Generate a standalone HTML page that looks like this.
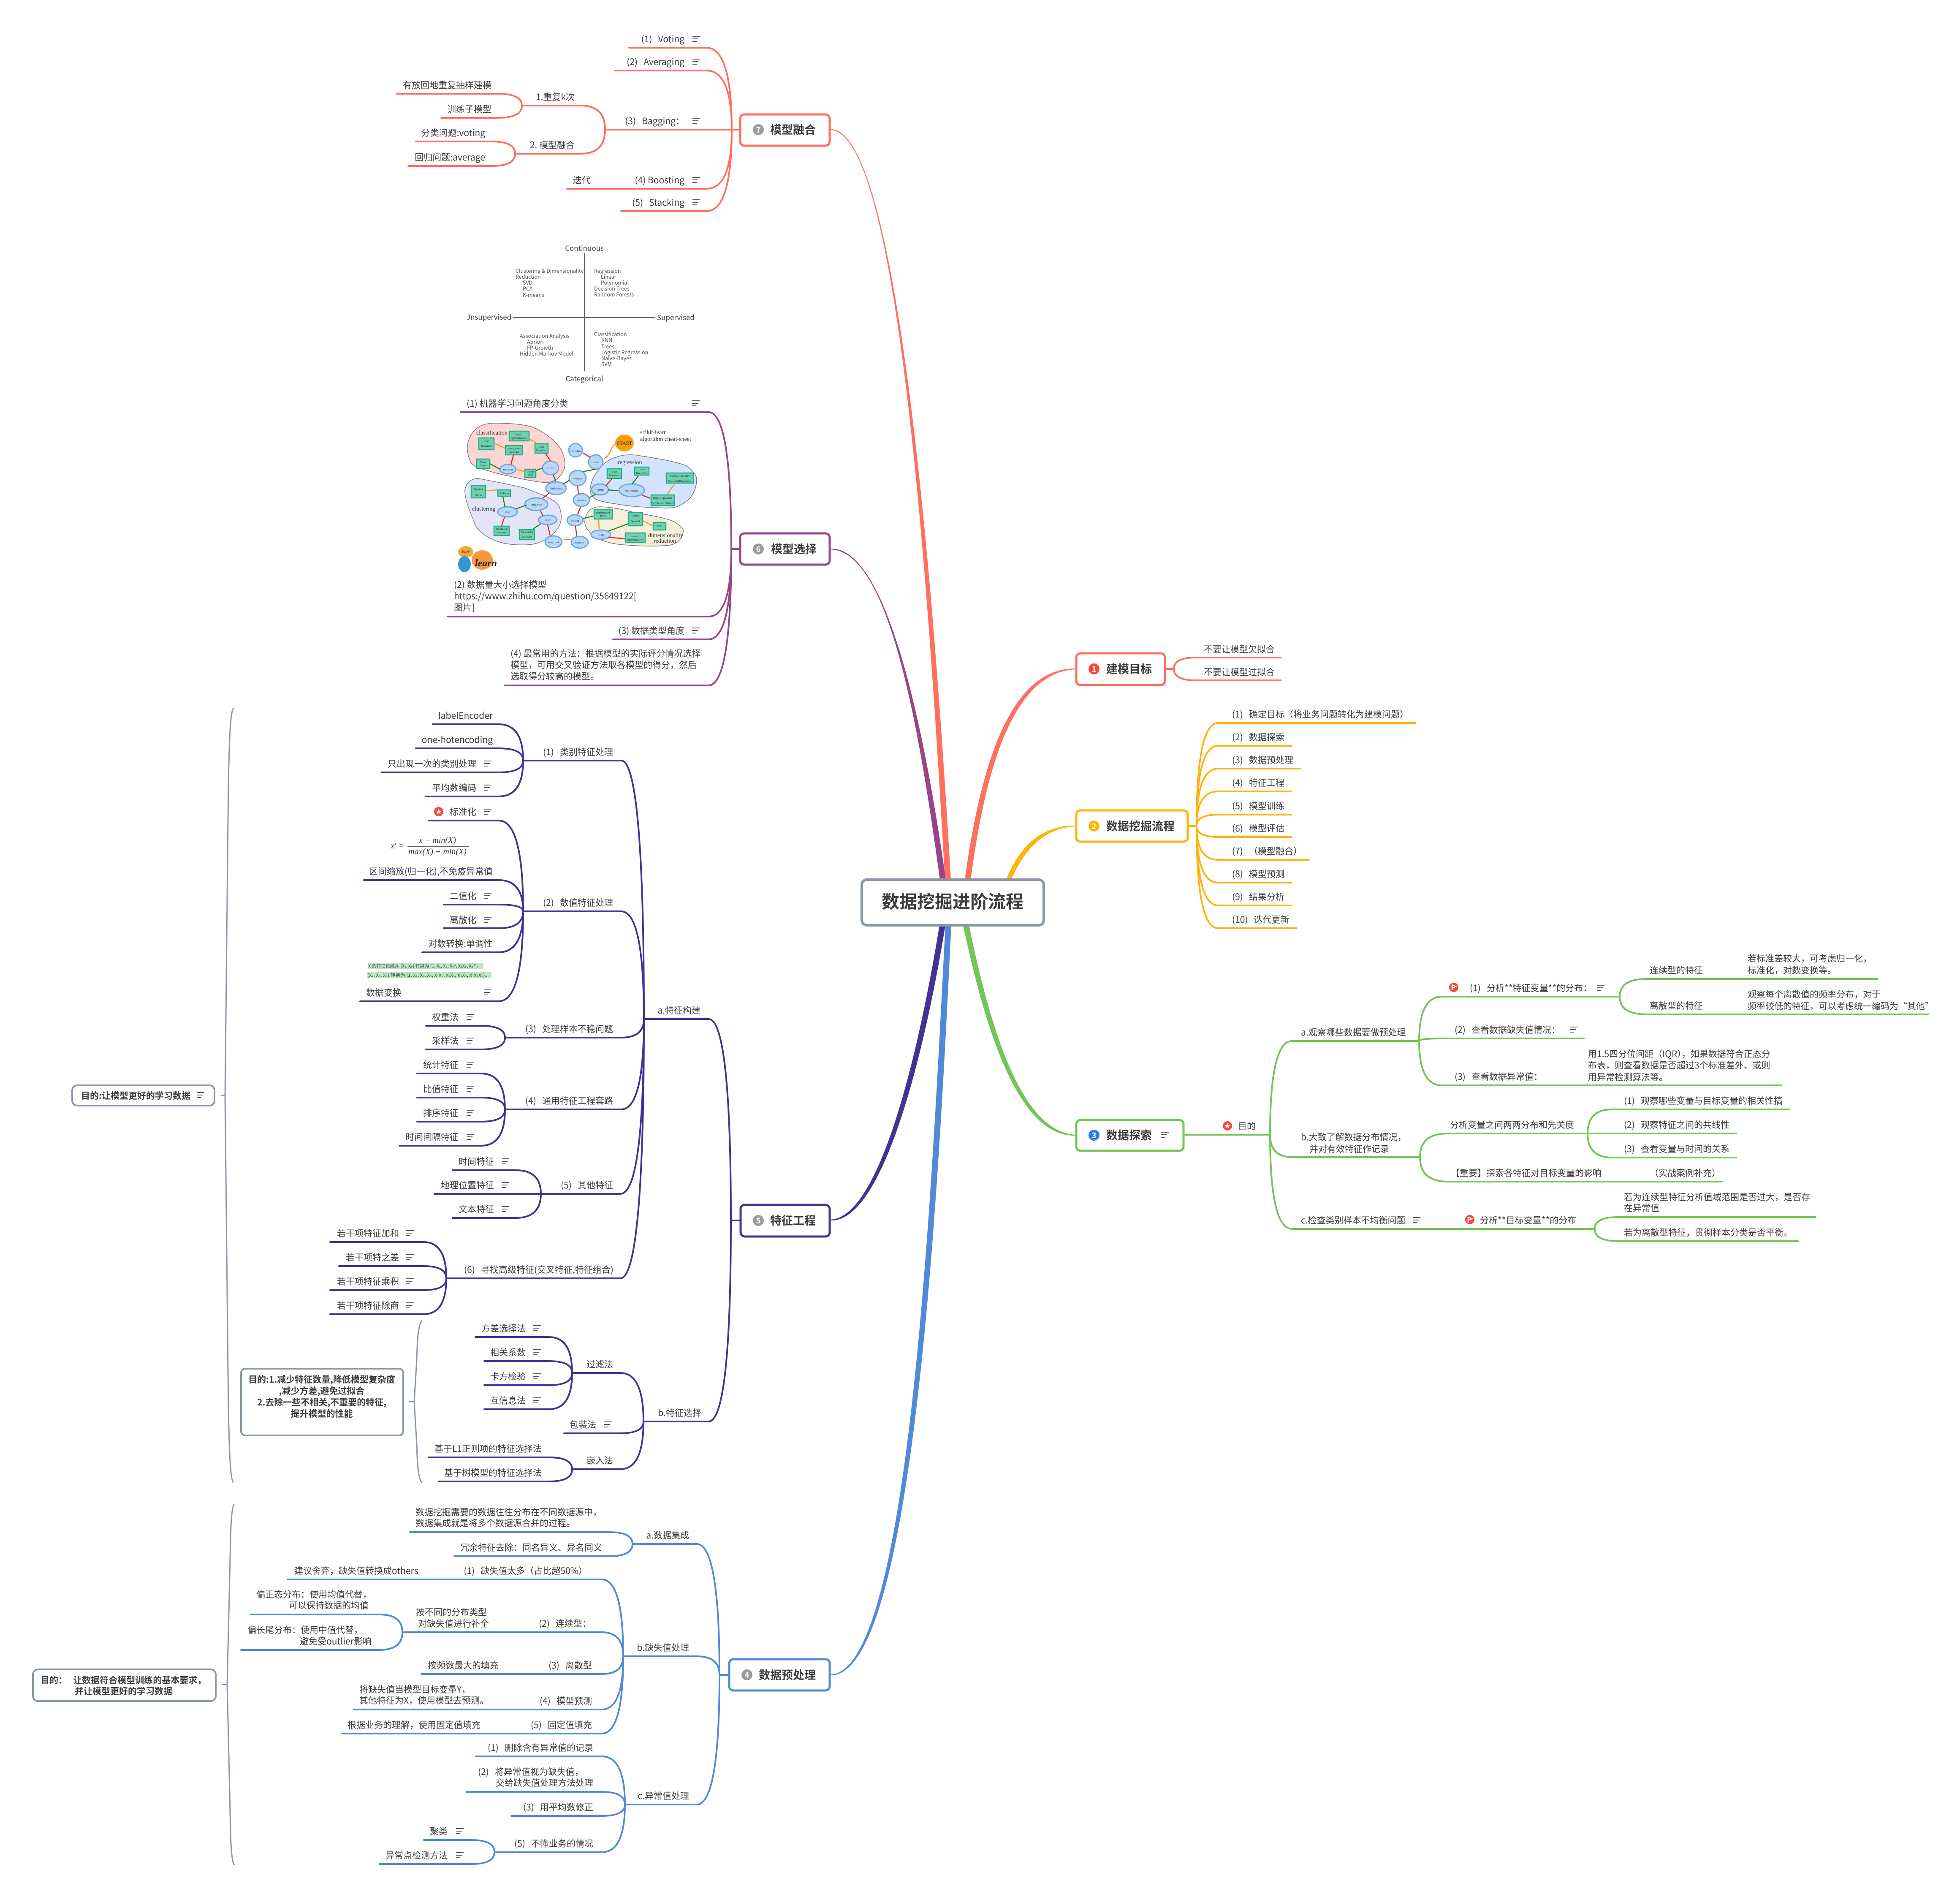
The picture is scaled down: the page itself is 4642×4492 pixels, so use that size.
<!DOCTYPE html>
<html lang="zh">
<head>
<meta charset="utf-8">
<title>数据挖掘进阶流程</title>
<style>
html,body{margin:0;padding:0;background:#fff}
svg{display:block}
text{font-family:"Noto Sans CJK SC","Liberation Sans",sans-serif;font-size:21px;fill:#3d3d3d;white-space:pre}
.e{text-anchor:end}
.m{text-anchor:middle}
.b{font-weight:700}
.n{font-size:27px;font-weight:700}
.w{fill:#fff;font-weight:700;font-size:18px;text-anchor:middle}
.q{font-size:17px;fill:#444}
.s{font-size:12.5px;fill:#555}
.f{font-family:"Liberation Serif",serif;font-style:italic;font-size:20px;fill:#333}
.h{font-family:"Liberation Serif",serif;font-size:14px;fill:#333}
.t{font-family:"Liberation Serif",serif;font-size:6.5px;fill:#234;text-anchor:middle}
.l{fill:none;stroke-width:4;stroke-linecap:round}
.box{fill:#fff;stroke-width:5}
.sum{fill:none;stroke:#8a97a8;stroke-width:3}
</style>
</head>
<body>
<svg xmlns="http://www.w3.org/2000/svg" width="4642" height="4492" viewBox="0 0 4642 4492">
<defs>
<g id="n"><path d="M0,1H18M0,7H14M0,13H10" stroke="#555" stroke-width="2" fill="none"/></g>
<g id="star"><circle r="11" fill="#f4483f"/><polygon points="0,-7 2,-2 7,-2 3,1 5,6 0,3 -5,6 -3,1 -7,-2 -2,-2" fill="#fff"/></g>
<g id="flag"><circle r="11" fill="#f4483f"/><path d="M-4,-6V7M-4,-6L5,-2L-4,2" stroke="#fff" stroke-width="2.5" fill="none"/></g>
</defs>

<!-- main tapered connectors -->
<path fill="#ff6f5e" d="M2238,2083C2194,1300 2122,312 1967,308L1967,306C2120,302 2206,1300 2252,2083Z"/>
<path fill="#984585" d="M2226,2083C2174,1700 2103,1305 1967,1301L1967,1299C2097,1295 2186,1700 2240,2083Z"/>
<path fill="#ff6f5e" d="M2285,2083C2324,1800 2396,1580 2549,1583L2549,1585C2406,1590 2336,1800 2299,2083Z"/>
<path fill="#ffb20a" d="M2383,2083C2416,2000 2470,1954 2549,1955L2549,1957C2476,1959 2426,2010 2395,2083Z"/>
<path fill="#72c556" d="M2281,2191C2336,2450 2415,2694 2548,2689L2548,2687C2423,2682 2348,2450 2295,2191Z"/>
<path fill="#443194" d="M2225,2191C2178,2480 2086,2883 1967,2888L1967,2890C2094,2895 2192,2480 2239,2191Z"/>
<path fill="#5089d8" d="M2239,2191C2207,2800 2156,3961 1967,3965L1967,3967C2166,3971 2223,2800 2253,2191Z"/>

<!-- branch lines -->
<path class="l" stroke="#ff6f5e" d="M1753,307H1733M1733,307Q1733,113 1673,113H1490M1733,307Q1733,167 1673,167H1456M1733,307H1433M1733,307Q1733,447 1673,447H1343M1733,307Q1733,500 1673,500H1471M1433,307Q1433,250 1375,250H1236M1433,307Q1433,364 1375,364H1220M1236,250Q1236,222 1179,222H940M1236,250Q1236,279 1179,279H1045M1220,364Q1220,335 1164,335H985M1220,364Q1220,393 1164,393H967M2759,1584H2780M2780,1584Q2780,1557 2832,1557H3033M2780,1584Q2780,1611 2832,1611H3033"/>
<path class="l" stroke="#ffb20a" d="M2813,1956H2834M2834,1956Q2834,1712 2885,1712H3352M2834,1956Q2834,1766 2885,1766H3058M2834,1956Q2834,1820 2885,1820H3079M2834,1956Q2834,1874 2885,1874H3058M2834,1956Q2834,1929 2885,1929H3058M2834,1956Q2834,1982 2885,1982H3058M2834,1956Q2834,2036 2885,2036H3100M2834,1956Q2834,2090 2885,2090H3058M2834,1956Q2834,2144 2885,2144H3058M2834,1956Q2834,2198 2885,2198H3070"/>
<path class="l" stroke="#984585" d="M1753,1300H1732M1732,1300Q1732,976 1678,976H1091M1732,1300Q1732,1460 1678,1460H1061M1732,1300Q1732,1514 1678,1514H1452M1732,1300Q1732,1623 1678,1623H1196"/>
<path class="l" stroke="#443194" d="M1754,2890H1731M1731,2890Q1731,2413 1678,2413H1525M1731,2890Q1731,3366 1678,3366H1524
M1525,2413Q1525,1801 1471,1801H1239M1525,2413Q1525,2158 1471,2158H1239M1525,2413Q1525,2457 1471,2457H1196M1525,2413Q1525,2627 1471,2627H1196M1525,2413Q1525,2827 1469,2827H1281M1525,2413Q1525,3027 1469,3027H1057
M1239,1801Q1239,1715 1181,1715H1025M1239,1801Q1239,1772 1181,1772H985M1239,1801Q1239,1829 1181,1829H904M1239,1801Q1239,1886 1181,1886H1009
M1239,2158Q1239,1943 1181,1943H1015M1239,2158Q1239,2084 1181,2084H862M1239,2158Q1239,2142 1181,2142H1051M1239,2158Q1239,2198 1181,2198H1051M1239,2158Q1239,2255 1181,2255H1000M1239,2158Q1239,2371 1181,2371H853
M1196,2457Q1196,2429 1139,2429H1009M1196,2457Q1196,2485 1139,2485H1009
M1196,2627Q1196,2542 1139,2542H988M1196,2627Q1196,2599 1139,2599H988M1196,2627Q1196,2656 1139,2656H988M1196,2627Q1196,2713 1139,2713H946
M1281,2827Q1281,2771 1221,2771H1072M1281,2827H1029M1281,2827Q1281,2884 1221,2884H1072
M1057,3027Q1057,2941 1003,2941H782M1057,3027Q1057,2998 1003,2998H803M1057,3027Q1057,3055 1003,3055H782M1057,3027Q1057,3112 1003,3112H782
M1524,3366Q1524,3251 1469,3251H1355M1524,3366Q1524,3394 1469,3394H1336M1524,3366Q1524,3479 1469,3479H1355
M1355,3251Q1355,3166 1300,3166H1126M1355,3251Q1355,3223 1300,3223H1147M1355,3251Q1355,3280 1300,3280H1147M1355,3251Q1355,3337 1300,3337H1147
M1355,3479Q1355,3451 1300,3451H1015M1355,3479Q1355,3508 1300,3508H1039"/>
<path class="l" stroke="#5089d8" d="M1727,3966H1704M1704,3966Q1704,3656 1650,3656H1498M1704,3966Q1704,3922 1650,3922H1476M1704,3966Q1704,4273 1650,4273H1480
M1498,3656Q1498,3628 1443,3628H971M1498,3656Q1498,3685 1443,3685H1076
M1476,3922Q1476,3740 1425,3740H682M1476,3922Q1476,3865 1425,3865H953M1476,3922Q1476,3964 1425,3964H998M1476,3922Q1476,4048 1425,4048H838M1476,3922Q1476,4105 1425,4105H809
M953,3865Q953,3823 898,3823H593M953,3865Q953,3907 898,3907H571
M1480,4273Q1480,4159 1425,4159H1127M1480,4273Q1480,4243 1425,4243H1105M1480,4273Q1480,4300 1425,4300H1211M1480,4273Q1480,4386 1425,4386H1171
M1171,4386Q1171,4357 1116,4357H1004M1171,4386Q1171,4414 1116,4414H899"/>
<path class="l" stroke="#72c556" d="M2803,2687H3008M3008,2687Q3008,2465 3060,2465H3361M3008,2687Q3008,2740 3060,2740H3363M3008,2687Q3008,2910 3060,2910H3777
M3361,2465Q3361,2360 3415,2360H3836M3361,2465Q3361,2459 3415,2459H3751M3361,2465Q3361,2570 3415,2570H4219
M3836,2360Q3836,2318 3900,2318H4447M3836,2360Q3836,2402 3900,2402H4567
M3363,2740Q3363,2684 3429,2684H3760M3363,2740Q3363,2798 3429,2798H4078
M3760,2684Q3760,2627 3818,2627H4238M3760,2684H4112M3760,2684Q3760,2741 3818,2741H4112
M3777,2910Q3777,2882 3832,2882H4300M3777,2910Q3777,2939 3832,2939H4258"/>

<!-- summary braces -->
<path class="sum" d="M553,1677C545,1685 543,1760 541,1850L533,2594L541,3340C543,3430 545,3505 553,3511M523,2594H533"/>
<path class="sum" d="M1000,3127C990,3133 988,3180 987,3220L981,3319L987,3420C988,3460 990,3505 1000,3511M969,3319H981"/>
<path class="sum" d="M555,3562C547,3570 546,3630 545,3690L538,3989L545,4290C546,4350 547,4408 555,4416M526,3989H538"/>
<rect class="box" x="171" y="2570" width="337" height="48" rx="12" stroke="#8a97a8" style="stroke-width:4"/>
<text class="b" x="192" y="2602">目的:让模型更好的学习数据</text>
<use href="#n" x="466" y="2586"/>
<rect class="box" x="571" y="3241" width="384" height="158" rx="10" stroke="#8a97a8" style="stroke-width:4"/>
<text class="b m" x="762" y="3274">目的:1.减少特征数量,降低模型复杂度</text>
<text class="b m" x="762" y="3301">,减少方差,避免过拟合</text>
<text class="b m" x="762" y="3328">2.去除一些不相关,不重要的特征,</text>
<text class="b m" x="762" y="3355">提升模型的性能</text>
<rect class="box" x="78" y="3953" width="433" height="75" rx="12" stroke="#8a97a8" style="stroke-width:4"/>
<text class="b" x="96" y="3986">目的：   让数据符合模型训练的基本要求，</text>
<text class="b" x="177" y="4012">并让模型更好的学习数据</text>

<!-- root -->
<rect class="box" x="2041" y="2083" width="431" height="108" rx="12" stroke="#8a97a8" style="stroke-width:6"/>
<text class="m b" x="2256" y="2150" style="font-size:42px">数据挖掘进阶流程</text>

<!-- main nodes -->
<rect class="box" x="2549" y="1547" width="210" height="75" rx="10" stroke="#ff6f5e"/>
<circle cx="2591" cy="1584" r="13" fill="#f4483f"/><text class="w" x="2591" y="1591">1</text>
<text class="n" x="2620" y="1594">建模目标</text>

<rect class="box" x="2549" y="1919" width="264" height="74" rx="10" stroke="#ffb20a"/>
<circle cx="2591" cy="1956" r="13" fill="#ffb20a"/><text class="w" x="2591" y="1963">2</text>
<text class="n" x="2620" y="1966">数据挖掘流程</text>

<rect class="box" x="2549" y="2652" width="254" height="73" rx="10" stroke="#72c556"/>
<circle cx="2591" cy="2688" r="13" fill="#2d7bf0"/><text class="w" x="2591" y="2695">3</text>
<text class="n" x="2620" y="2698">数据探索</text>
<use href="#n" x="2750" y="2680"/>

<rect class="box" x="1727" y="3929" width="238" height="74" rx="10" stroke="#5089d8"/>
<circle cx="1769" cy="3966" r="13" fill="#9b9b9b"/><text class="w" x="1769" y="3973">4</text>
<text class="n" x="1797" y="3976">数据预处理</text>

<rect class="box" x="1754" y="2853" width="211" height="75" rx="10" stroke="#443194"/>
<circle cx="1796" cy="2890" r="13" fill="#9b9b9b"/><text class="w" x="1796" y="2897">5</text>
<text class="n" x="1824" y="2900">特征工程</text>

<rect class="box" x="1753" y="1263" width="212" height="74" rx="10" stroke="#984585"/>
<circle cx="1796" cy="1300" r="13" fill="#9b9b9b"/><text class="w" x="1796" y="1307">6</text>
<text class="n" x="1826" y="1310">模型选择</text>

<rect class="box" x="1753" y="271" width="212" height="74" rx="10" stroke="#ff6f5e"/>
<circle cx="1796" cy="307" r="13" fill="#9b9b9b"/><text class="w" x="1796" y="314">7</text>
<text class="n" x="1824" y="317">模型融合</text>

<!-- node 7 text -->
<text class="e" x="1621" y="100">(1)   Voting</text><use href="#n" x="1640" y="85"/>
<text class="e" x="1621" y="154">(2)   Averaging</text><use href="#n" x="1640" y="139"/>
<text class="e" x="1621" y="294">(3)   Bagging：</text><use href="#n" x="1640" y="279"/>
<text class="e" x="1621" y="434">(4) Boosting</text><use href="#n" x="1640" y="419"/>
<text class="e" x="1621" y="487">(5)   Stacking</text><use href="#n" x="1640" y="472"/>
<text x="1357" y="434">迭代</text>
<text class="e" x="1361" y="237">1.重复k次</text>
<text class="e" x="1361" y="351">2. 模型融合</text>
<text class="e" x="1164" y="209">有放回地重复抽样建模</text>
<text class="e" x="1164" y="266">训练子模型</text>
<text class="e" x="1149" y="322">分类问题:voting</text>
<text class="e" x="1149" y="380">回归问题:average</text>

<!-- quadrant image -->
<path d="M1384,600V879M1215,752H1552" stroke="#666" stroke-width="2" fill="none"/>
<text class="q m" x="1384" y="594">Continuous</text>
<text class="q m" x="1384" y="903">Categorical</text>
<text class="q" x="1105" y="757">Jnsupervised</text>
<text class="q" x="1556" y="758">Supervised</text>
<text class="s" x="1221" y="646">Clustering &amp; Dimensionality</text>
<text class="s" x="1221" y="660">Reduction</text>
<text class="s" x="1238" y="674">SVD</text>
<text class="s" x="1238" y="688">PCA</text>
<text class="s" x="1238" y="703">K-means</text>
<text class="s" x="1407" y="646">Regression</text>
<text class="s" x="1423" y="660">Linear</text>
<text class="s" x="1423" y="674">Polynomial</text>
<text class="s" x="1407" y="688">Decision Trees</text>
<text class="s" x="1407" y="702">Random Forests</text>
<text class="s" x="1231" y="800">Association Analysis</text>
<text class="s" x="1248" y="814">Apriori</text>
<text class="s" x="1248" y="828">FP-Growth</text>
<text class="s" x="1231" y="842">Hidden Markov Model</text>
<text class="s" x="1407" y="796">Classification</text>
<text class="s" x="1424" y="810">KNN</text>
<text class="s" x="1424" y="825">Trees</text>
<text class="s" x="1424" y="839">Logistic Regression</text>
<text class="s" x="1424" y="853">Naive-Bayes</text>
<text class="s" x="1424" y="867">SVM</text>

<!-- node 6 text -->
<text x="1105" y="963">(1) 机器学习问题角度分类</text><use href="#n" x="1639" y="948"/>
<text x="1075" y="1392">(2) 数据量大小选择模型</text>
<text x="1075" y="1419">https://www.zhihu.com/question/35649122[</text>
<text x="1075" y="1446">图片]</text>
<text class="e" x="1621" y="1501">(3) 数据类型角度</text><use href="#n" x="1639" y="1486"/>
<text x="1209" y="1555">(4) 最常用的方法：根据模型的实际评分情况选择</text>
<text x="1209" y="1582">模型，可用交叉验证方法取各模型的得分，然后</text>
<text x="1209" y="1609">选取得分较高的模型。</text>

<!-- scikit-learn cheat sheet -->
<g>
<path d="M1107,1054C1115,1015 1140,1002 1171,1002C1210,1002 1240,1005 1260,1011C1295,1025 1322,1050 1331,1069C1337,1085 1340,1095 1337,1107C1330,1130 1312,1143 1292,1143C1260,1140 1215,1130 1178,1121C1145,1112 1118,1105 1114,1093C1108,1080 1106,1065 1107,1054Z" fill="#fdd5d5" stroke="#777" stroke-width="1.5"/>
<path d="M1101,1160C1105,1140 1118,1133 1133,1133C1170,1140 1205,1147 1241,1155C1280,1170 1312,1180 1324,1198C1332,1220 1330,1235 1324,1246C1310,1270 1285,1285 1260,1289C1235,1292 1205,1290 1184,1284C1155,1275 1135,1260 1127,1246C1115,1215 1100,1185 1101,1160Z" fill="#e4e4f8" stroke="#777" stroke-width="1.5"/>
<path d="M1398,1155C1402,1125 1430,1090 1458,1083C1475,1076 1495,1076 1509,1078C1550,1085 1590,1090 1624,1102C1640,1112 1650,1125 1650,1136C1650,1155 1640,1178 1624,1188C1610,1200 1595,1203 1579,1203C1535,1202 1495,1200 1458,1193C1435,1190 1412,1185 1407,1179C1400,1172 1396,1165 1398,1155Z" fill="#d4e3ff" stroke="#777" stroke-width="1.5"/>
<path d="M1385,1236C1385,1215 1400,1200 1420,1200C1445,1200 1470,1205 1496,1212C1535,1220 1575,1225 1598,1236C1612,1245 1620,1252 1618,1260C1615,1280 1600,1288 1586,1291C1545,1295 1505,1293 1465,1289C1435,1285 1410,1275 1401,1265C1392,1255 1385,1248 1385,1236Z" fill="#f5eeda" stroke="#777" stroke-width="1.5"/>
<g fill="#6fd0ae" stroke="#1fb088" stroke-width="2.5">
<rect x="1206" y="1021" width="47" height="23"/><rect x="1134" y="1037" width="36" height="28"/><rect x="1197" y="1055" width="40" height="22"/><rect x="1267" y="1051" width="31" height="22"/><rect x="1129" y="1087" width="31" height="22"/><rect x="1243" y="1111" width="26" height="20"/><rect x="1116" y="1150" width="34" height="29"/><rect x="1179" y="1160" width="30" height="15"/><rect x="1170" y="1246" width="36" height="22"/><rect x="1230" y="1254" width="36" height="24"/><rect x="1438" y="1110" width="34" height="23"/><rect x="1503" y="1106" width="34" height="19"/><rect x="1578" y="1120" width="64" height="24"/><rect x="1542" y="1172" width="55" height="25"/><rect x="1407" y="1207" width="43" height="22"/><rect x="1489" y="1214" width="33" height="31"/><rect x="1547" y="1237" width="30" height="18"/><rect x="1481" y="1262" width="47" height="23"/>
</g>
<g class="lab">
<text class="t" x="1229" y="1031">kernel</text><text class="t" x="1229" y="1039">approximation</text>
<text class="t" x="1152" y="1047">SVC</text><text class="t" x="1152" y="1058">Ensemble</text>
<text class="t" x="1217" y="1064">KNeighbors</text><text class="t" x="1217" y="1072">Classifier</text>
<text class="t" x="1282" y="1060">SGD</text><text class="t" x="1282" y="1068">Classifier</text>
<text class="t" x="1144" y="1096">Naive</text><text class="t" x="1144" y="1104">Bayes</text>
<text class="t" x="1256" y="1119">Linear</text><text class="t" x="1256" y="1127">SVC</text>
<text class="t" x="1133" y="1160">Spectral</text><text class="t" x="1133" y="1175">GMM</text>
<text class="t" x="1194" y="1170">KMeans</text>
<text class="t" x="1188" y="1255">MiniBatch</text><text class="t" x="1188" y="1263">KMeans</text>
<text class="t" x="1248" y="1262">MeanShift</text><text class="t" x="1248" y="1274">VBGMM</text>
<text class="t" x="1455" y="1119">SGD</text><text class="t" x="1455" y="1127">Regressor</text>
<text class="t" x="1520" y="1113">Lasso</text><text class="t" x="1520" y="1122">ElasticNet</text>
<text class="t" x="1610" y="1129">SVR(kernel='rbf')</text><text class="t" x="1610" y="1141">EnsembleRegressors</text>
<text class="t" x="1569" y="1181">RidgeRegression</text><text class="t" x="1569" y="1193">SVR(kernel='linear')</text>
<text class="t" x="1428" y="1216">Randomized</text><text class="t" x="1428" y="1224">PCA</text>
<text class="t" x="1505" y="1223">Isomap</text><text class="t" x="1505" y="1236">Spectral</text>
<text class="t" x="1562" y="1248">LLE</text>
<text class="t" x="1504" y="1272">kernel</text><text class="t" x="1504" y="1280">approximation</text>
</g>
<g fill="#b9d8f7" stroke="#6ea8e0" stroke-width="3">
<ellipse cx="1363" cy="1066" rx="16" ry="16"/><ellipse cx="1411" cy="1094" rx="17" ry="17"/><ellipse cx="1368" cy="1132" rx="20" ry="18"/><ellipse cx="1317" cy="1156" rx="24" ry="15"/><ellipse cx="1304" cy="1108" rx="19" ry="16"/><ellipse cx="1203" cy="1111" rx="19" ry="11"/><ellipse cx="1377" cy="1184" rx="19" ry="15"/><ellipse cx="1421" cy="1159" rx="20" ry="13"/><ellipse cx="1496" cy="1161" rx="30" ry="15"/><ellipse cx="1270" cy="1194" rx="27" ry="15"/><ellipse cx="1202" cy="1212" rx="23" ry="12"/><ellipse cx="1297" cy="1231" rx="22" ry="11"/><ellipse cx="1362" cy="1232" rx="19" ry="13"/><ellipse cx="1423" cy="1266" rx="23" ry="11"/><ellipse cx="1373" cy="1284" rx="20" ry="14"/><ellipse cx="1311" cy="1283" rx="20" ry="14"/>
</g>
<path fill="none" stroke="#1a8a1a" stroke-width="2.5" d="M1411,1111L1380,1117M1317,1140L1310,1125M1335,1146L1350,1136M1285,1108L1270,1114M1184,1111L1160,1098M1440,1160L1463,1162M1497,1146L1512,1127M1396,1178L1412,1170M1247,1196L1222,1205M1196,1200L1191,1176M1282,1240L1263,1252M1381,1228L1405,1222M1440,1258L1488,1240"/>
<path fill="none" stroke="#d42a2a" stroke-width="2.5" d="M1398,1083L1380,1072M1368,1150L1370,1170M1375,1200L1368,1218M1363,1246L1366,1270M1300,1168L1285,1180M1280,1210L1286,1222M1297,1243L1303,1268M1195,1224L1188,1245M1304,1092L1292,1074M1210,1100L1216,1078M1520,1172L1540,1180M1440,1272L1480,1276M1435,1150L1450,1133"/>
<path fill="none" stroke="#f59e0b" stroke-width="2.5" d="M1459,1052C1445,1055 1450,1075 1430,1087M1271,1050L1255,1040M1197,1062L1172,1050M1243,1117L1225,1112M1178,1160L1152,1162M1353,1278L1333,1278M1418,1230L1419,1253M1522,1232L1545,1245M1580,1170L1597,1147"/>
<ellipse cx="1479" cy="1049" rx="21" ry="19" fill="#ff9d00" stroke="#d9a93a" stroke-width="2"/>
<text class="t" x="1479" y="1053" style="font-size:12px">START</text>
<text class="h" x="1516" y="1028">scikit-learn</text>
<text class="h" x="1516" y="1044">algorithm cheat-sheet</text>
<text class="h" x="1128" y="1029">classification</text>
<text class="h" x="1118" y="1209">clustering</text>
<text class="h" x="1463" y="1099">regression</text>
<text class="h" x="1535" y="1272">dimensionality</text>
<text class="h" x="1548" y="1285">reduction</text>
<text class="t" x="1363" y="1070">more data</text>
<text class="t" x="1411" y="1097">&gt;50</text>
<text class="t" x="1368" y="1135">category</text>
<text class="t" x="1317" y="1159">labeled data</text>
<text class="t" x="1304" y="1111">&lt;100K</text>
<text class="t" x="1203" y="1114">Text Data</text>
<text class="t" x="1377" y="1187">quantity</text>
<text class="t" x="1421" y="1162">&lt;100K</text>
<text class="t" x="1496" y="1164">few features</text>
<text class="t" x="1270" y="1197">categories</text>
<text class="t" x="1202" y="1215">&lt;10K</text>
<text class="t" x="1297" y="1234">&lt;10K</text>
<text class="t" x="1362" y="1235">looking</text>
<text class="t" x="1423" y="1269">&lt;10K</text>
<text class="t" x="1373" y="1287">structure</text>
<text class="t" x="1311" y="1286">tough luck</text>
<ellipse cx="1103" cy="1307" rx="17" ry="13" fill="#f9a03c" stroke="#e5c04d" stroke-width="2"/>
<ellipse cx="1100" cy="1336" rx="15" ry="19" fill="#3498cf"/>
<ellipse cx="1142" cy="1326" rx="25" ry="23" fill="#f7993a"/>
<text x="1125" y="1341" style="font-family:'Liberation Serif',serif;font-style:italic;font-weight:700;font-size:24px;fill:#222">learn</text>
<text class="t" x="1103" y="1310" style="font-size:9px;font-style:italic">Back</text>
</g>

<!-- node 5 text -->
<text class="e" x="1659" y="2400">a.特征构建</text>
<text class="e" x="1661" y="3353">b.特征选择</text>
<text class="e" x="1452" y="1788">(1)   类别特征处理</text>
<text class="e" x="1452" y="2145">(2)   数值特征处理</text>
<text class="e" x="1452" y="2444">(3)   处理样本不稳问题</text>
<text class="e" x="1452" y="2614">(4)   通用特征工程套路</text>
<text class="e" x="1452" y="2814">(5)   其他特征</text>
<text class="e" x="1453" y="3014">(6)   寻找高级特征(交叉特征,特征组合)</text>
<text class="e" x="1167" y="1702">labelEncoder</text>
<text class="e" x="1167" y="1759">one-hotencoding</text>
<text class="e" x="1128" y="1816">只出现一次的类别处理</text><use href="#n" x="1146" y="1801"/>
<text class="e" x="1128" y="1873">平均数编码</text><use href="#n" x="1146" y="1858"/>
<use href="#star" x="1039" y="1922"/>
<text class="e" x="1128" y="1930">标准化</text><use href="#n" x="1146" y="1915"/>
<text class="f" x="925" y="2009">x′ =</text>
<text class="f" x="992" y="1996">x − min(X)</text>
<path d="M965,2004H1110" stroke="#333" stroke-width="1.5"/>
<text class="f" x="967" y="2023">max(X) − min(X)</text>
<text class="e" x="1167" y="2071">区间缩放(归一化),不免疫异常值</text>
<text class="e" x="1128" y="2129">二值化</text><use href="#n" x="1146" y="2114"/>
<text class="e" x="1128" y="2186">离散化</text><use href="#n" x="1146" y="2171"/>
<text class="e" x="1167" y="2242">对数转换:单调性</text>
<rect x="871" y="2280" width="274" height="14" fill="#bfe6c5"/>
<rect x="869" y="2302" width="295" height="14" fill="#bfe6c5"/>
<text x="872" y="2291" textLength="268" lengthAdjust="spacingAndGlyphs" style="font-size:10px">X 的特征已经从 (X₁, X₂) 转换为 (1, X₁, X₂, X₁², X₁X₂, X₂²)。</text>
<text x="870" y="2313" textLength="290" lengthAdjust="spacingAndGlyphs" style="font-size:10px">(X₁, X₂, X₃) 转换为 (1, X₁, X₂, X₃, X₁X₂, X₁X₃, X₂X₃, X₁X₂X₃)。</text>
<text x="867" y="2358">数据变换</text><use href="#n" x="1146" y="2343"/>
<text class="e" x="1086" y="2416">权重法</text><use href="#n" x="1105" y="2401"/>
<text class="e" x="1086" y="2472">采样法</text><use href="#n" x="1105" y="2457"/>
<text class="e" x="1086" y="2529">统计特征</text><use href="#n" x="1105" y="2514"/>
<text class="e" x="1086" y="2586">比值特征</text><use href="#n" x="1105" y="2571"/>
<text class="e" x="1086" y="2643">排序特征</text><use href="#n" x="1105" y="2628"/>
<text class="e" x="1086" y="2700">时间间隔特征</text><use href="#n" x="1105" y="2685"/>
<text class="e" x="1170" y="2758">时间特征</text><use href="#n" x="1188" y="2743"/>
<text class="e" x="1170" y="2814">地理位置特征</text><use href="#n" x="1188" y="2799"/>
<text class="e" x="1170" y="2871">文本特征</text><use href="#n" x="1188" y="2856"/>
<text class="e" x="945" y="2928">若干项特征加和</text><use href="#n" x="962" y="2913"/>
<text class="e" x="945" y="2985">若干项特之差</text><use href="#n" x="962" y="2970"/>
<text class="e" x="945" y="3042">若干项特征乘积</text><use href="#n" x="962" y="3027"/>
<text class="e" x="945" y="3099">若干项特征除商</text><use href="#n" x="962" y="3084"/>
<text class="e" x="1452" y="3238">过滤法</text>
<text class="e" x="1412" y="3381">包装法</text><use href="#n" x="1431" y="3366"/>
<text class="e" x="1452" y="3466">嵌入法</text>
<text class="e" x="1245" y="3153">方差选择法</text><use href="#n" x="1263" y="3138"/>
<text class="e" x="1245" y="3210">相关系数</text><use href="#n" x="1263" y="3195"/>
<text class="e" x="1245" y="3267">卡方检验</text><use href="#n" x="1263" y="3252"/>
<text class="e" x="1245" y="3324">互信息法</text><use href="#n" x="1263" y="3309"/>
<text class="e" x="1283" y="3438">基于L1正则项的特征选择法</text>
<text class="e" x="1283" y="3495">基于树模型的特征选择法</text>

<!-- node 4 text -->
<text class="e" x="1632" y="3643">a.数据集成</text>
<text class="e" x="1632" y="3909">b.缺失值处理</text>
<text class="e" x="1632" y="4260">c.异常值处理</text>
<text x="984" y="3588">数据挖掘需要的数据往往分布在不同数据源中，</text>
<text x="984" y="3614">数据集成就是将多个数据源合并的过程。</text>
<text class="e" x="1426" y="3672">冗余特征去除：同名异义、异名同义</text>
<text class="e" x="1391" y="3727">(1)   缺失值太多（占比超50%）</text>
<text x="697" y="3727">建议舍弃，缺失值转换成others</text>
<text x="1276" y="3852">(2)   连续型：</text>
<text x="985" y="3825">按不同的分布类型</text>
<text x="990" y="3852">对缺失值进行补全</text>
<text class="e" x="1402" y="3951">(3)   离散型</text>
<text x="1013" y="3951">按频数最大的填充</text>
<text class="e" x="1402" y="4035">(4)   模型预测</text>
<text x="851" y="4008">将缺失值当模型目标变量Y，</text>
<text x="851" y="4034">其他特征为X，使用模型去预测。</text>
<text class="e" x="1402" y="4092">(5)   固定值填充</text>
<text x="823" y="4092">根据业务的理解，使用固定值填充</text>
<text x="607" y="3783">偏正态分布：使用均值代替，</text>
<text x="684" y="3809">可以保持数据的均值</text>
<text x="586" y="3867">偏长尾分布：使用中值代替，</text>
<text x="710" y="3894">避免受outlier影响</text>
<text class="e" x="1405" y="4146">(1)   删除含有异常值的记录</text>
<text x="1132" y="4203">(2)   将异常值视为缺失值，</text>
<text class="e" x="1405" y="4229">交给缺失值处理方法处理</text>
<text class="e" x="1405" y="4287">(3)   用平均数修正</text>
<text class="e" x="1405" y="4373">(5)   不懂业务的情况</text>
<text class="e" x="1060" y="4344">聚类</text><use href="#n" x="1080" y="4329"/>
<text class="e" x="1060" y="4401">异常点检测方法</text><use href="#n" x="1080" y="4386"/>

<!-- node 1 text -->
<text x="2851" y="1545">不要让模型欠拟合</text>
<text x="2851" y="1599">不要让模型过拟合</text>

<!-- node 2 text -->
<text x="2918" y="1699">(1)   确定目标（将业务问题转化为建模问题）</text>
<text x="2918" y="1753">(2)   数据探索</text>
<text x="2918" y="1807">(3)   数据预处理</text>
<text x="2918" y="1861">(4)   特征工程</text>
<text x="2918" y="1916">(5)   模型训练</text>
<text x="2918" y="1969">(6)   模型评估</text>
<text x="2918" y="2023">(7)   （模型融合）</text>
<text x="2918" y="2077">(8)   模型预测</text>
<text x="2918" y="2131">(9)   结果分析</text>
<text x="2918" y="2185">(10)   迭代更新</text>

<!-- node 3 text -->
<use href="#star" x="2907" y="2666"/>
<text x="2932" y="2674">目的</text>
<text x="3081" y="2452">a.观察哪些数据要做预处理</text>
<text x="3081" y="2700">b.大致了解数据分布情况，</text>
<text x="3101" y="2728">并对有效特征作记录</text>
<text x="3081" y="2897">c.检查类别样本不均衡问题</text><use href="#n" x="3346" y="2882"/>
<use href="#flag" x="3481" y="2888"/>
<text x="3505" y="2897">分析**目标变量**的分布</text>
<use href="#flag" x="3443" y="2338"/>
<text x="3481" y="2347">(1)   分析**特征变量**的分布：</text><use href="#n" x="3782" y="2332"/>
<text x="3445" y="2446">(2)   查看数据缺失值情况：</text><use href="#n" x="3718" y="2431"/>
<text x="3445" y="2557">(3)   查看数据异常值：</text>
<text x="3761" y="2503">用1.5四分位间距（IQR），如果数据符合正态分</text>
<text x="3761" y="2530">布表，则查看数据是否超过3个标准差外、或则</text>
<text x="3761" y="2558">用异常检测算法等。</text>
<text x="3907" y="2305">连续型的特征</text>
<text x="4139" y="2277">若标准差较大，可考虑归一化，</text>
<text x="4139" y="2305">标准化，对数变换等。</text>
<text x="3907" y="2389">离散型的特征</text>
<text x="4139" y="2362">观察每个离散值的频率分布，对于</text>
<text x="4139" y="2390">频率较低的特征，可以考虑统一编码为“其他”</text>
<text x="3434" y="2671">分析变量之间两两分布和先关度</text>
<text x="3436" y="2785">【重要】探索各特征对目标变量的影响</text>
<text x="3907" y="2785">（实战案例补充）</text>
<text x="3846" y="2614">(1)   观察哪些变量与目标变量的相关性搞</text>
<text x="3846" y="2671">(2)   观察特征之间的共线性</text>
<text x="3846" y="2728">(3)   查看变量与时间的关系</text>
<text x="3846" y="2842">若为连续型特征分析值域范围是否过大，是否存</text>
<text x="3846" y="2868">在异常值</text>
<text x="3846" y="2926">若为离散型特征，贯彻样本分类是否平衡。</text>
</svg>
</body>
</html>
